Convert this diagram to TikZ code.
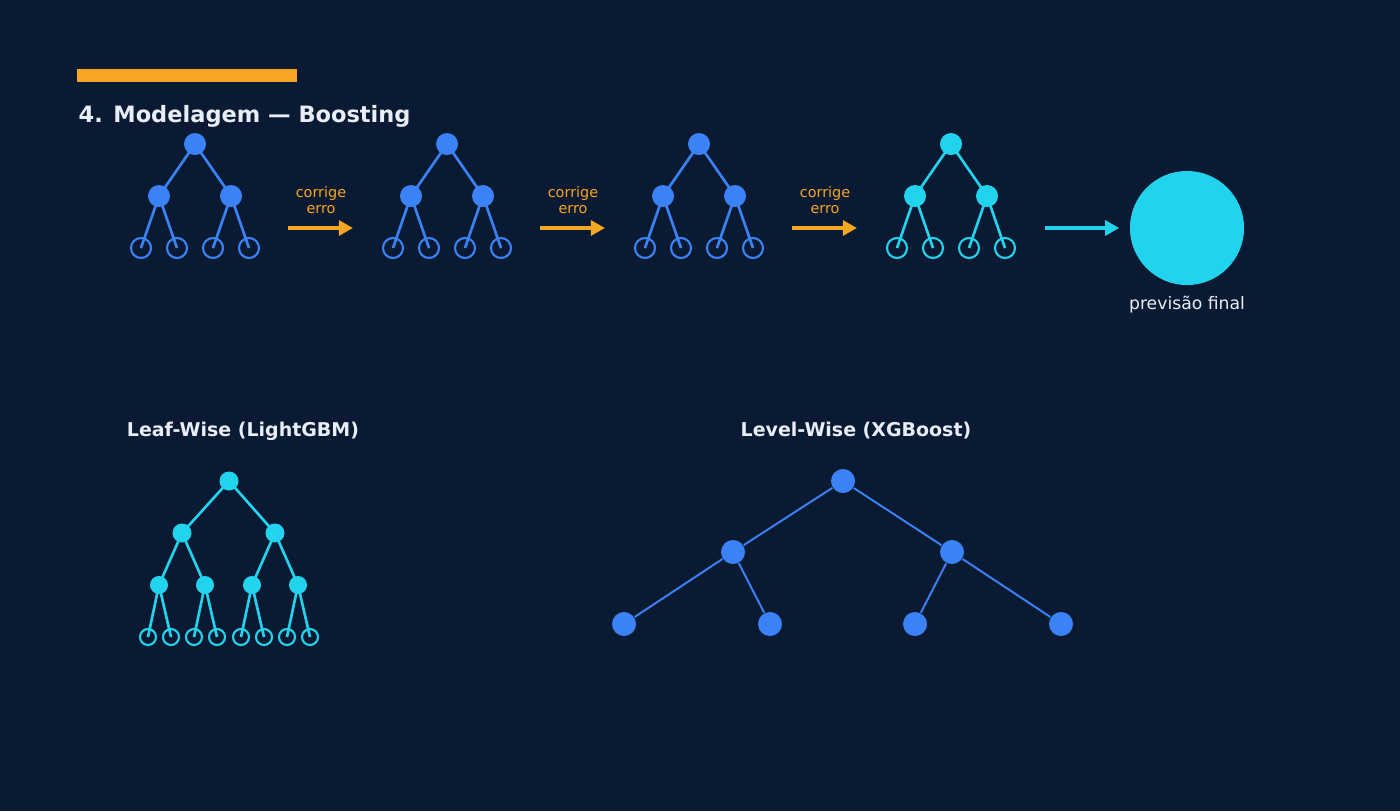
\documentclass[tikz,border=0pt]{standalone}
\usepackage{fontspec}
\setmainfont{DejaVu Sans}
\usetikzlibrary{arrows.meta}

\definecolor{bgnavy}{HTML}{0B1A33}
\definecolor{treeblue}{HTML}{3B82F6}
\definecolor{treecyan}{HTML}{22D3EE}
\definecolor{boostorange}{HTML}{F5A623}
\definecolor{softwhite}{HTML}{E8EEF8}

\tikzset{
    inner/.style={circle,fill=#1,inner sep=0pt,minimum size=0.22cm},
    leaf/.style={circle,draw=#1,line width=0.6pt,fill=bgnavy,inner sep=0pt,minimum size=0.19cm},
    edge/.style={draw=#1,line width=0.75pt},
    flow/.style={-{Triangle[length=4pt,width=4.2pt]},line width=1.1pt},
    caption/.style={text=softwhite,font=\bfseries\fontsize{5.4}{6.5}\selectfont}
}

\begin{document}
\begin{tikzpicture}[x=0.01cm,y=-0.01cm]
    \useasboundingbox[fill=bgnavy] (0,0) rectangle (1400,811);
    % title
    \fill[boostorange] (77,69) rectangle (297,82);
    \node[anchor=west,inner sep=0pt,text=softwhite,font=\bfseries\fontsize{6.4}{7.5}\selectfont] (title) at (78,116) {4. Modelagem — Boosting};

    % boosting chain
    \foreach \i/\cx/\col in {1/195/treeblue,2/447/treeblue,3/699/treeblue,4/951/treecyan}{
        \coordinate (r\i) at (\cx,144);
        \coordinate (a\i) at (\cx-36,196);
        \coordinate (b\i) at (\cx+36,196);
        \draw[edge=\col] (a\i) -- (r\i) -- (b\i);
        \foreach \k/\dx/\p in {1/-54/a,2/-18/a,3/18/b,4/54/b}{
            \node[leaf=\col,minimum size=0.2cm] (l\i\k) at (\cx+\dx,248) {};
            \draw[edge=\col] (\p\i) -- (l\i\k.center);
        }
        \node[inner=\col] at (r\i) {};
        \node[inner=\col] at (a\i) {};
        \node[inner=\col] at (b\i) {};
    }
    \foreach \i/\sx in {1/288,2/540,3/792}{
        \coordinate (s\i) at (\sx,228);
        \coordinate (e\i) at (\sx+65,228);
        \draw[flow,boostorange] (s\i) -- (e\i);
        \node[text=boostorange,font=\fontsize{4.1}{4.7}\selectfont,align=center] (c\i) at (\sx+33,200) {corrige\\erro};
    }
    \node[circle,fill=treecyan,minimum size=1.14cm,inner sep=0pt] (final) at (1187,228) {};
    \coordinate (f0) at (1045,228);
    \draw[flow,treecyan] (f0) -- ([xshift=-0.1cm]final.west);
    \node[text=softwhite,font=\fontsize{4.9}{6}\selectfont] (flabel) at (1187,305) {previsão final};

    % leaf-wise
    \node[caption] (lw) at (243,431) {Leaf-Wise (LightGBM)};
    \coordinate (lr) at (229,481);
    \coordinate (lA) at (182,533);
    \coordinate (lB) at (275,533);
    \draw[edge=treecyan] (lA) -- (lr) -- (lB);
    \foreach \j/\x/\p in {1/159/lA,2/205/lA,3/252/lB,4/298/lB}{
        \coordinate (m\j) at (\x,585);
        \draw[edge=treecyan] (\p) -- (m\j);
        \node[leaf=treecyan,minimum size=0.16cm] (n\j a) at (\x-11,637) {};
        \node[leaf=treecyan,minimum size=0.16cm] (n\j b) at (\x+12,637) {};
        \draw[edge=treecyan] (m\j) -- (n\j a.center) (m\j) -- (n\j b.center);
        \node[inner=treecyan,minimum size=0.18cm] at (m\j) {};
    }
    \node[inner=treecyan,minimum size=0.19cm] at (lr) {};
    \node[inner=treecyan,minimum size=0.19cm] at (lA) {};
    \node[inner=treecyan,minimum size=0.19cm] at (lB) {};

    % level-wise
    \node[caption] (vw) at (856,431) {Level-Wise (XGBoost)};
    \node[inner=treeblue,minimum size=0.24cm] (vr) at (843,481) {};
    \node[inner=treeblue,minimum size=0.24cm] (vA) at (733,552) {};
    \node[inner=treeblue,minimum size=0.24cm] (vB) at (952,552) {};
    \node[inner=treeblue,minimum size=0.24cm] (v1) at (624,624) {};
    \node[inner=treeblue,minimum size=0.24cm] (v2) at (770,624) {};
    \node[inner=treeblue,minimum size=0.24cm] (v3) at (915,624) {};
    \node[inner=treeblue,minimum size=0.24cm] (v4) at (1061,624) {};
    \draw[edge=treeblue,line width=0.55pt] (vr) -- (vA) (vr) -- (vB)
        (vA) -- (v1) (vA) -- (v2) (vB) -- (v3) (vB) -- (v4);
\end{tikzpicture}
\end{document}
